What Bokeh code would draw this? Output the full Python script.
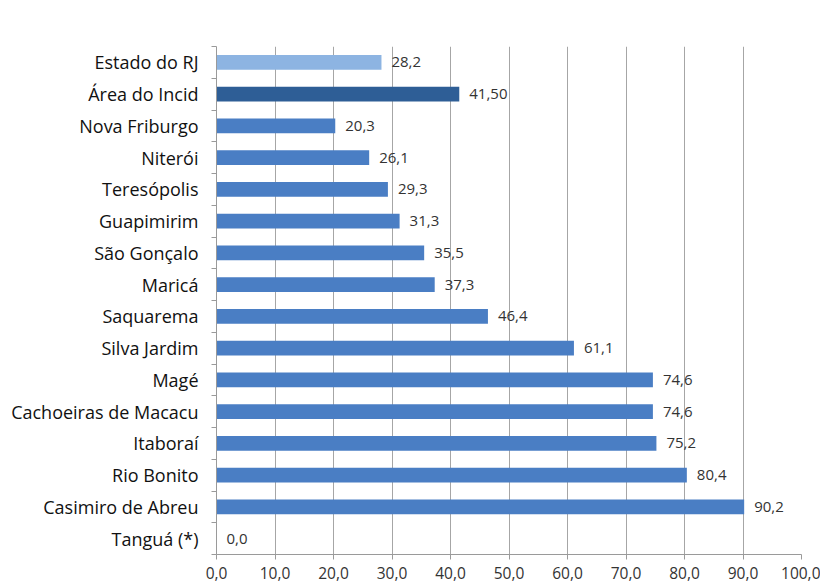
from bokeh.plotting import figure
from bokeh.models import ColumnDataSource, FixedTicker, Range1d
from bokeh.core.properties import value
from bokeh.embed import file_html
from bokeh.resources import INLINE

categories = ["Estado do RJ", "Área do Incid", "Nova Friburgo", "Niterói", "Teresópolis",
              "Guapimirim", "São Gonçalo", "Maricá", "Saquarema", "Silva Jardim", "Magé",
              "Cachoeiras de Macacu", "Itaboraí", "Rio Bonito", "Casimiro de Abreu", "Tanguá (*)"]
values = [28.2, 41.5, 20.3, 26.1, 29.3, 31.3, 35.5, 37.3, 46.4, 61.1, 74.6, 74.6, 75.2, 80.4, 90.2, 0.0]
labels = ["28,2", "41,50", "20,3", "26,1", "29,3", "31,3", "35,5", "37,3", "46,4", "61,1",
          "74,6", "74,6", "75,2", "80,4", "90,2", "0,0"]
colors = ["#8DB4E2", "#2E5E96"] + ["#4A7EC4"] * 14
x_ticks = [0, 10, 20, 30, 40, 50, 60, 70, 80, 90, 100]
x_tick_labels = ["0,0", "10,0", "20,0", "30,0", "40,0", "50,0", "60,0", "70,0", "80,0", "90,0", "100,0"]

FONT = "Open Sans"
n = len(categories)
centers = [i + 0.5 for i in range(n)]
bounds = [i for i in range(n + 1)]

src = ColumnDataSource(dict(y=centers, val=values, lab=labels, col=colors))

p = figure(width=820, height=585, y_range=Range1d(n, 0),
           x_range=Range1d(0, 100), output_backend="svg", toolbar_location=None)
p.min_border_left = 216
p.min_border_right = 19
p.min_border_top = 46
p.min_border_bottom = 31
p.outline_line_color = None
p.background_fill_color = "white"

p.hbar(y="y", right="val", left=0, height=0.46, fill_color="col", line_color=None, source=src)
p.text(x="val", y="y", text="lab", source=src, x_offset=10, text_baseline="middle",
       text_align="left", text_font=value(FONT), text_font_size="15px", text_color="#333333")

p.xaxis.ticker = FixedTicker(ticks=x_ticks)
p.xaxis.major_label_overrides = {t: l for t, l in zip(x_ticks, x_tick_labels)}
p.xaxis.major_label_text_font = FONT
p.xaxis.major_label_text_font_size = "15.5px"
p.xaxis.major_label_text_color = "#333333"
p.xaxis.axis_line_color = "#9a9a9a"
p.xaxis.major_tick_line_color = "#9a9a9a"
p.xaxis.major_tick_out = 5
p.xaxis.major_tick_in = 0
p.xaxis.minor_tick_line_color = None
p.xaxis.major_label_standoff = 7

p.yaxis.ticker = FixedTicker(ticks=centers, minor_ticks=bounds)
p.yaxis.major_label_overrides = {c: cat for c, cat in zip(centers, categories)}
p.yaxis.major_label_text_font = FONT
p.yaxis.major_label_text_font_size = "18px"
p.yaxis.major_label_text_color = "#111111"
p.yaxis.axis_line_color = "#9a9a9a"
p.yaxis.major_tick_line_color = None
p.yaxis.minor_tick_line_color = "#9a9a9a"
p.yaxis.minor_tick_out = 5
p.yaxis.minor_tick_in = 0
p.yaxis.major_label_standoff = 12

p.xgrid.ticker = FixedTicker(ticks=x_ticks)
p.xgrid.grid_line_color = "#a6a6a6"
p.ygrid.grid_line_color = None

open("out.html", "w").write(file_html(p, INLINE))
